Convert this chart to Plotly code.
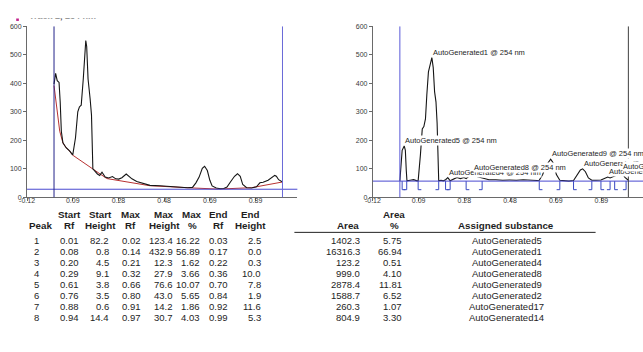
import plotly.graph_objects as go

W, H = 643, 352


def fx(px):
    """Pixel column -> paper x."""
    return px / W


def fy(py):
    """Pixel row (from top) -> paper y."""
    return 1 - py / H


# ---------------- densitogram data (track 2, 254 nm) ----------------
raw_rf = [0.000, 0.007, 0.014, 0.022, 0.027, 0.032, 0.039, 0.053, 0.068, 0.082,
          0.094, 0.104, 0.111, 0.119, 0.128, 0.139, 0.143, 0.149, 0.158, 0.164,
          0.170, 0.178, 0.190, 0.200, 0.210, 0.224, 0.239, 0.256, 0.270, 0.283,
          0.297, 0.316, 0.326, 0.341, 0.362, 0.391, 0.420, 0.463, 0.506, 0.549,
          0.585, 0.606, 0.621, 0.635, 0.649, 0.659, 0.671, 0.682, 0.692, 0.710,
          0.728, 0.743, 0.757, 0.772, 0.790, 0.803, 0.815, 0.826, 0.843, 0.865,
          0.886, 0.901, 0.915, 0.937, 0.951, 0.966, 0.973, 0.983, 1.000]
raw_signal = [397, 435, 409, 403, 335, 232, 191, 174, 163, 149,
              209, 300, 317, 323, 415, 550, 529, 415, 346, 289,
              100, 92, 82, 77, 88, 71, 68, 73, 65, 64,
              69, 82, 74, 65, 56, 48, 42, 41, 39, 35,
              34, 35, 51, 71, 102, 109, 94, 60, 40, 33,
              30, 31, 36, 54, 74, 83, 74, 45, 34, 33,
              37, 51, 53, 60, 68, 77, 74, 62, 54]

baseline_rf = [0.000, 0.012, 0.025, 0.039, 0.053, 0.068, 0.080, 0.231, 0.418,
               0.605, 0.720, 0.865, 1.000]
baseline_signal = [392, 320, 232, 191, 174, 163, 149, 66, 41, 33, 29, 34, 54]
raw_reference_level = 28.5

corr_rf = [0.000, 0.005, 0.010, 0.019, 0.024, 0.028, 0.031, 0.045, 0.060, 0.075,
           0.080, 0.090, 0.098, 0.105, 0.112, 0.118, 0.125, 0.140, 0.146, 0.152,
           0.158, 0.163, 0.167, 0.170, 0.180, 0.190, 0.200, 0.210, 0.220, 0.235,
           0.250, 0.265, 0.280, 0.290, 0.320, 0.340, 0.360, 0.390, 0.420, 0.450,
           0.480, 0.510, 0.540, 0.570, 0.600, 0.610, 0.625, 0.640, 0.660, 0.672,
           0.685, 0.700, 0.720, 0.740, 0.760, 0.775, 0.790, 0.800, 0.812, 0.825,
           0.840, 0.860, 0.880, 0.895, 0.910, 0.920, 0.935, 0.950, 0.970, 0.985,
           1.000]
corr_signal = [57, 135, 165, 180.4, 165, 95, 58, 60, 62, 58,
               58, 150, 240, 248, 275, 360, 440, 489.9, 455, 370,
               335, 260, 120, 58, 60, 58, 62, 69.3, 58, 63,
               70, 66, 70, 66, 84.9, 72, 67, 62, 62, 60,
               61, 60, 62, 60, 59, 60, 80, 112, 133.6, 120,
               80, 60, 58, 57, 59, 78, 96, 100, 90, 68,
               60, 60, 61, 66, 71.2, 68, 72, 78, 87.7, 70,
               60]
corr_reference_level = 57

x_tick_vals = [-0.118, 0.082, 0.282, 0.482, 0.682, 0.882]
x_tick_text = ["-0.12", "0.09", "0.28", "0.48", "0.69", "0.89"]
y_tick_vals = [0, 100, 200, 300, 400, 500, 600]

track_label = "Track 2, 254 nm"
wavelength = "254 nm"

# ---------------- peak table ----------------
peak_no = [1, 2, 3, 4, 5, 6, 7, 8]
start_rf = [0.01, 0.08, 0.20, 0.29, 0.61, 0.76, 0.88, 0.94]
start_height = [82.2, 0.8, 4.5, 9.1, 3.8, 3.5, 0.6, 14.4]
max_rf = [0.02, 0.14, 0.21, 0.32, 0.66, 0.80, 0.91, 0.97]
max_height = [123.4, 432.9, 12.3, 27.9, 76.6, 43.0, 14.2, 30.7]
max_pct = [16.22, 56.89, 1.62, 3.66, 10.07, 5.65, 1.86, 4.03]
end_rf = [0.03, 0.17, 0.22, 0.36, 0.70, 0.84, 0.92, 0.99]
end_height = [2.5, 0.0, 0.3, 10.0, 7.8, 1.9, 11.6, 5.3]
area = [1402.3, 16316.3, 123.2, 999.0, 2878.4, 1588.7, 260.3, 804.9]
area_pct = [5.75, 66.94, 0.51, 4.10, 11.81, 6.52, 1.07, 3.30]
substance = ["AutoGenerated5", "AutoGenerated1", "AutoGenerated4", "AutoGenerated8",
             "AutoGenerated9", "AutoGenerated2", "AutoGenerated17", "AutoGenerated14"]

# ---------------- styling ----------------
FONT = "Liberation Sans, Arial, sans-serif"
AXIS_COL = "#6a6a6a"
TEXT_COL = "#1e1e1e"
BLUE = "#4a4ad0"
NAVY = "#23238a"
RED = "#b83232"
TRACE = "#151515"

fig = go.Figure()

# left panel: raw signal with baseline
fig.add_trace(go.Scatter(x=baseline_rf, y=baseline_signal, mode="lines",
                         line=dict(color=RED, width=1), xaxis="x", yaxis="y",
                         hoverinfo="skip"))
fig.add_trace(go.Scatter(x=raw_rf, y=raw_signal, mode="lines",
                         line=dict(color=TRACE, width=1.1), xaxis="x", yaxis="y"))

# right panel: baseline-corrected signal
fig.add_trace(go.Scatter(x=corr_rf, y=corr_signal, mode="lines",
                         line=dict(color=TRACE, width=1.1), xaxis="x2", yaxis="y2"))

# peak start / end brackets under the corrected baseline
bx, by = [], []
foot = 0.014
low = corr_reference_level - 30
for s, e in zip(start_rf, end_rf):
    bx += [s, s, s + foot, None, e, e, e - foot, None]
    by += [corr_reference_level, low, low, None, corr_reference_level, low, low, None]
fig.add_trace(go.Scatter(x=bx, y=by, mode="lines", line=dict(color="#3848c0", width=1),
                         xaxis="x2", yaxis="y2", hoverinfo="skip"))

shapes = []
# reference lines on both panels
shapes.append(dict(type="line", xref="x domain", yref="y", x0=0, x1=1,
                   y0=raw_reference_level, y1=raw_reference_level,
                   line=dict(color=BLUE, width=1)))
shapes.append(dict(type="line", xref="x", yref="y", x0=0, x1=0, y0=0, y1=600,
                   line=dict(color=NAVY, width=1)))
shapes.append(dict(type="line", xref="x", yref="y", x0=1, x1=1, y0=0, y1=600,
                   line=dict(color="#6a6ad8", width=1)))
shapes.append(dict(type="line", xref="x2 domain", yref="y2", x0=0, x1=1,
                   y0=corr_reference_level, y1=corr_reference_level,
                   line=dict(color=BLUE, width=1)))
shapes.append(dict(type="line", xref="x2", yref="y2", x0=0, x1=0, y0=0, y1=600,
                   line=dict(color="#5a5ad8", width=1)))
shapes.append(dict(type="line", xref="x2", yref="y2", x0=1, x1=1, y0=0, y1=600,
                   line=dict(color="#404040", width=1)))
# track colour swatch
shapes.append(dict(type="rect", xref="paper", yref="paper",
                   x0=fx(8.3), x1=fx(11), y0=fy(17.3), y1=fy(10),
                   fillcolor="#c2228c", line=dict(width=0)))
# table header rule
shapes.append(dict(type="line", xref="paper", yref="paper",
                   x0=fx(290), x1=fx(595), y0=fy(233), y1=fy(233),
                   line=dict(color="#222222", width=1)))

annotations = []
# track legend text, upper half hidden by the page header strip
annotations.append(dict(xref="paper", yref="paper", x=fx(19), y=fy(12.5),
                        xanchor="left", yanchor="middle", text=f"<b>{track_label}</b>",
                        showarrow=False, font=dict(family=FONT, size=9, color="#333333")))
annotations.append(dict(xref="paper", yref="paper", x=0, y=1, xanchor="left",
                        yanchor="top", text=" ", width=W, height=12.7, borderpad=0,
                        bgcolor="white", showarrow=False, font=dict(size=6)))

# peak labels on the corrected panel
for rf, h, name in zip(max_rf, max_height, substance):
    annotations.append(dict(xref="x2", yref="y2", x=rf, y=h + corr_reference_level,
                            xanchor="left", yanchor="bottom",
                            text=f"{name} @ {wavelength}", showarrow=False,
                            bgcolor="white", borderpad=0,
                            font=dict(family=FONT, size=7.5, color=TEXT_COL)))

# peak table
headers = [("", "Peak"), ("Start", "Rf"), ("Start", "Height"), ("Max", "Rf"),
           ("Max", "Height"), ("Max", "%"), ("End", "Rf"), ("End", "Height"),
           ("", "Area"), ("Area", "%"), ("", "Assigned substance")]
columns = [
    [str(v) for v in peak_no],
    [f"{v:.2f}" for v in start_rf],
    [f"{v:.1f}" for v in start_height],
    [f"{v:.2f}" for v in max_rf],
    [f"{v:.1f}" for v in max_height],
    [f"{v:.2f}" for v in max_pct],
    [f"{v:.2f}" for v in end_rf],
    [f"{v:.1f}" for v in end_height],
    [f"{v:.1f}" for v in area],
    [f"{v:.2f}" for v in area_pct],
    substance,
]
# (header centre, value x, value anchor) in pixels
col_pos = [(33, 29, "center"), (62.5, 62, "center"), (94, 104, "right"),
           (124.5, 125, "center"), (158, 169, "right"), (186.5, 196, "right"),
           (213.5, 213.5, "center"), (245.5, 258, "right"), (344, 358, "right"),
           (391, 401, "right"), (504, 505, "center")]
head_rows = (215, 226)
row_y0, row_dy = 241, 11.2
TABLE_SIZE = 9.5

for (h1, h2), (hx, vx, anchor), vals in zip(headers, col_pos, columns):
    for txt, py in zip((h1, h2), head_rows):
        if txt:
            annotations.append(dict(xref="paper", yref="paper", x=fx(hx), y=fy(py),
                                    xanchor="center", yanchor="middle",
                                    text=f"<b>{txt}</b>", showarrow=False,
                                    font=dict(family=FONT, size=TABLE_SIZE + 0.3,
                                              color=TEXT_COL)))
    for i, txt in enumerate(vals):
        annotations.append(dict(xref="paper", yref="paper", x=fx(vx),
                                y=fy(row_y0 + i * row_dy), xanchor=anchor,
                                yanchor="middle", text=txt, showarrow=False,
                                font=dict(family=FONT, size=TABLE_SIZE, color=TEXT_COL)))

axis_common = dict(showline=True, linecolor=AXIS_COL, linewidth=1, ticks="outside",
                   ticklen=3, tickcolor=AXIS_COL, showgrid=False, zeroline=False,
                   tickfont=dict(family=FONT, size=7, color="#3a3a3a"))
y_dom = [fy(197.3), fy(22.7)]

fig.update_layout(
    width=W, height=H, margin=dict(l=0, r=0, t=0, b=0),
    paper_bgcolor="white", plot_bgcolor="white", showlegend=False,
    xaxis=dict(domain=[fx(19.3), fx(293)], range=[-0.118, 1.065], anchor="y",
               tickvals=x_tick_vals, ticktext=x_tick_text, ticklabelstandoff=-7,
               **axis_common),
    yaxis=dict(domain=y_dom, range=[0, 600], anchor="x", tickvals=y_tick_vals,
               **axis_common),
    xaxis2=dict(domain=[fx(369.5), 1.0], range=[-0.118, 1.064], anchor="y2",
                tickvals=x_tick_vals, ticktext=x_tick_text, ticklabelstandoff=-7,
                **axis_common),
    yaxis2=dict(domain=y_dom, range=[0, 600], anchor="x2", tickvals=y_tick_vals,
                **axis_common),
    shapes=shapes,
    annotations=annotations,
)

fig.write_html("out.html")
